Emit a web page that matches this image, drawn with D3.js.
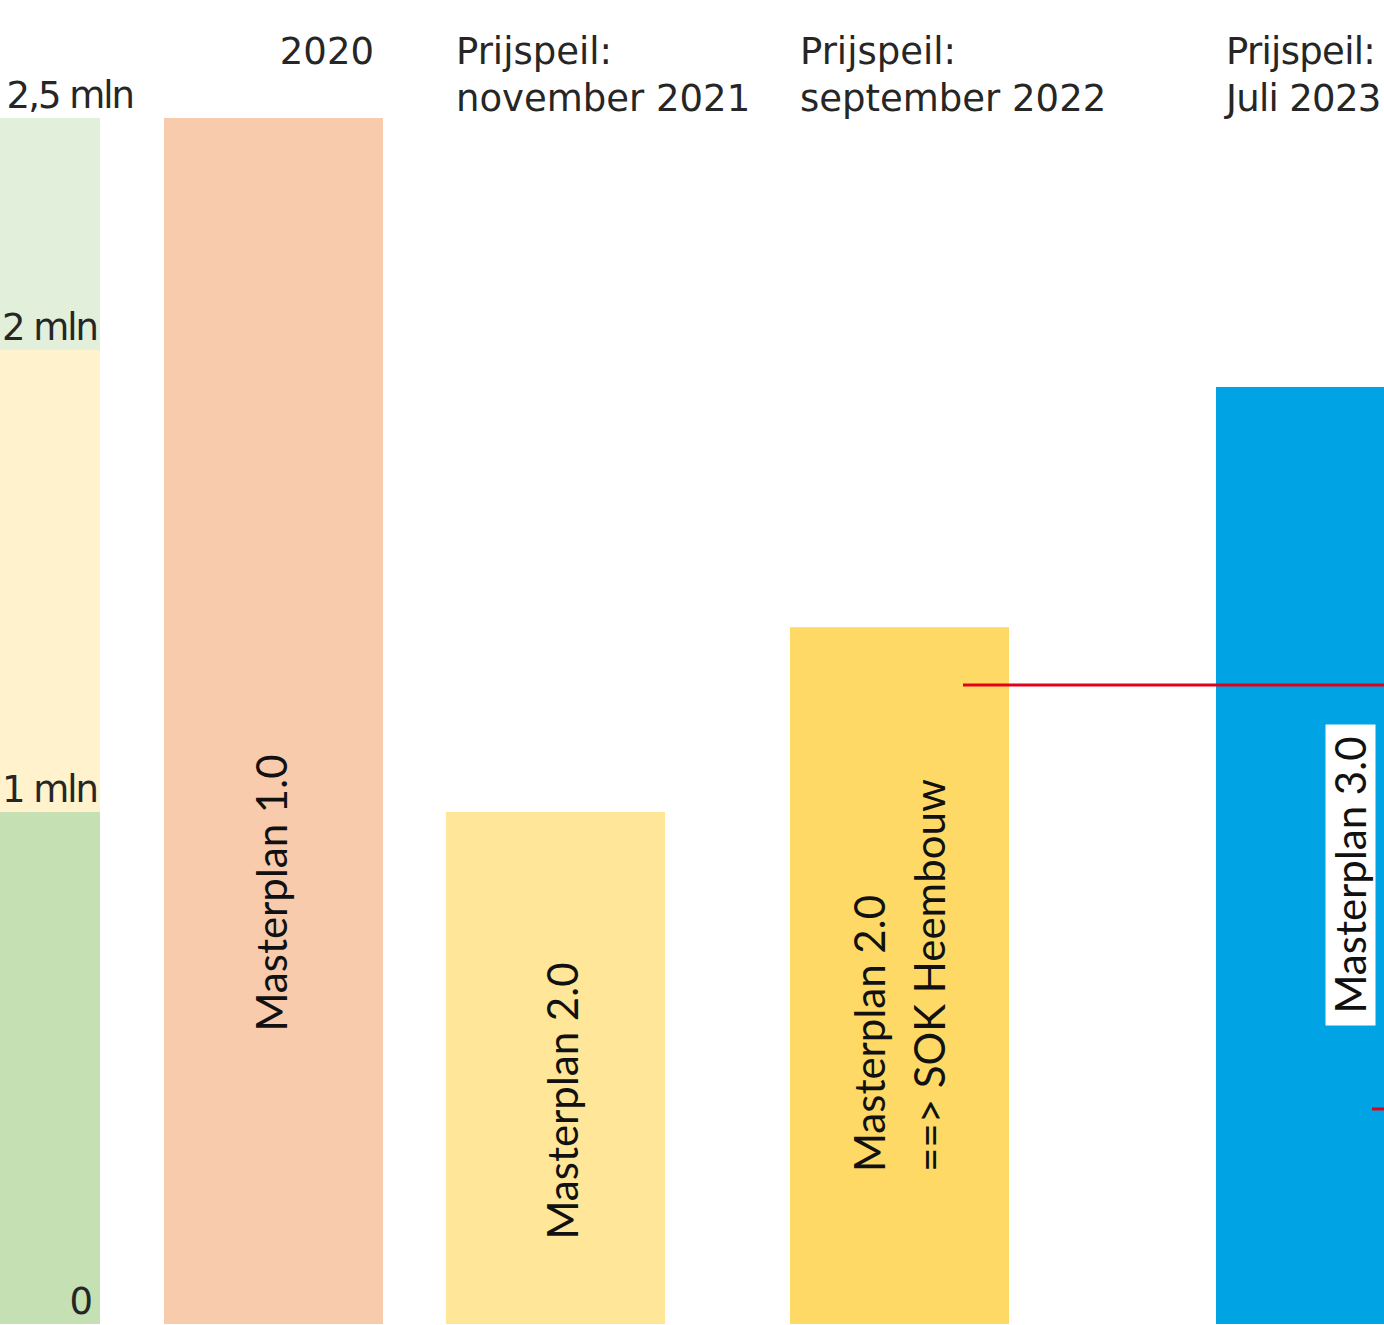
<!DOCTYPE html>
<html>
<head>
<meta charset="utf-8">
<script src="https://cdn.jsdelivr.net/npm/d3@7"></script>
<style>
  html, body { margin: 0; padding: 0; background: #fff; overflow: hidden; }
  svg { display: block; }
</style>
</head>
<body>
<div id="chart"></div>
<script>
// investment per masterplan version, in mln euro
const categories = ["2020", "november 2021", "september 2022", "Juli 2023"];
const headerLines = [["2020"], ["Prijspeil:", "november 2021"], ["Prijspeil:", "september 2022"], ["Prijspeil:", "Juli 2023"]];
const barLabels = [["Masterplan 1.0"], ["Masterplan 2.0"], ["Masterplan 2.0", "==> SOK Heembouw"], ["Masterplan 3.0"]];
const costs = [2.5, 1.0, 1.4, 1.92];

const tickValues = [0, 1, 2, 2.5];
const tickLabels = ["0", "1 mln", "2 mln", "2,5 mln"];

// red reference marks
const redLineValue = 1.275;
const redTickValue = 0.42;

const width = 1384, height = 1325;

const svg = d3.select("#chart").append("svg")
    .attr("width", width)
    .attr("height", height);

// the value axis is drawn schematically, not linearly
const y = d3.scaleLinear()
    .domain(tickValues)
    .range([1324, 812, 350, 118]);

// column slots (unequal spacing in the original)
const x = d3.scaleLinear()
    .domain([0, 1, 2, 3])
    .range([164, 446, 790, 1216]);
const barWidth = 219;

const bandColours = ["#c5e0b3", "#fff2cc", "#e2efda"];
const barColours = ["#f8cbad", "#ffe699", "#ffd966", "#00a3e4"];

// coloured axis bands
const bands = d3.pairs(tickValues);
svg.append("g").selectAll("rect")
    .data(bands)
    .join("rect")
    .attr("x", 0)
    .attr("width", 100)
    .attr("y", d => y(d[1]))
    .attr("height", d => y(d[0]) - y(d[1]))
    .attr("fill", (d, i) => bandColours[i]);

// tick labels
svg.append("g").selectAll("text")
    .data(tickValues)
    .join("text")
    .attr("x", (d, i) => i === tickValues.length - 1 ? 133 : (d === 0 ? 91 : 97))
    .attr("y", d => y(d) - 10)
    .attr("text-anchor", "end")
    .style("font-family", "'DejaVu Sans', Verdana, sans-serif")
    .style("font-size", "37px")
    .style("letter-spacing", "-2px")
    .attr("fill", "#262626")
    .text((d, i) => tickLabels[i]);

// bars
svg.append("g").selectAll("rect")
    .data(costs)
    .join("rect")
    .attr("x", (d, i) => x(i))
    .attr("width", barWidth)
    .attr("y", d => y(d))
    .attr("height", d => y(0) - y(d))
    .attr("fill", (d, i) => barColours[i]);

// column headers
const headers = svg.append("g");
headerLines.forEach((lines, i) => {
    let first = i === 0;
    let t = headers.append("text")
        .attr("text-anchor", first ? "end" : "start")
        .style("font-family", "'DejaVu Sans', Verdana, sans-serif")
        .style("font-size", "37px")
        .attr("fill", "#262626");
    lines.forEach((line, j) => {
        t.append("tspan")
            .attr("x", first ? x(i) + barWidth - 9 : x(i) + 10)
            .attr("y", 64 + j * 47)
            .text(line);
    });
    // squeeze a header that would run past the right edge
    let bb = t.node().getBBox();
    let over = bb.x + bb.width - (width - 4);
    if (over > 0) {
        let longest = d3.max(lines, l => l.length);
        t.style("letter-spacing", `${-over / longest}px`);
    }
});

// rotated labels inside the bars
const labelPos = [
    {dx: -2, cy: 893, anchor: "middle"},
    {dx: 7, cy: 1101, anchor: "middle"},
    {dx: -30, cy: 1172, anchor: "start", lineGap: 60},
    {dx: 25, cy: 875, anchor: "middle", box: true}
];

const labels = svg.append("g");
barLabels.forEach((lines, i) => {
    let p = labelPos[i];
    let cx = x(i) + barWidth / 2 + p.dx;
    let g = labels.append("g")
        .attr("transform", `translate(${cx},${p.cy}) rotate(-90)`);
    let t = g.append("text")
        .attr("text-anchor", p.anchor)
        .style("font-family", "Lato, 'Open Sans', sans-serif")
        .style("font-size", "42px")
        .attr("fill", "#111");
    lines.forEach((line, j) => {
        t.append("tspan")
            .attr("x", 0)
            .attr("y", j * (p.lineGap || 0))
            .attr("dy", "0.36em")
            .text(line);
    });
    if (p.box) {
        let bb = t.node().getBBox();
        g.insert("rect", "text")
            .attr("x", bb.x - 12)
            .attr("y", -25)
            .attr("width", bb.width + 24)
            .attr("height", 50)
            .attr("fill", "#fff");
    }
});

// red reference lines
svg.append("line")
    .attr("x1", 963).attr("x2", width)
    .attr("y1", y(redLineValue)).attr("y2", y(redLineValue))
    .attr("stroke", "#e3001b")
    .attr("stroke-width", 3);

svg.append("line")
    .attr("x1", 1372).attr("x2", width)
    .attr("y1", y(redTickValue)).attr("y2", y(redTickValue))
    .attr("stroke", "#e3001b")
    .attr("stroke-width", 3);
</script>
</body>
</html>
